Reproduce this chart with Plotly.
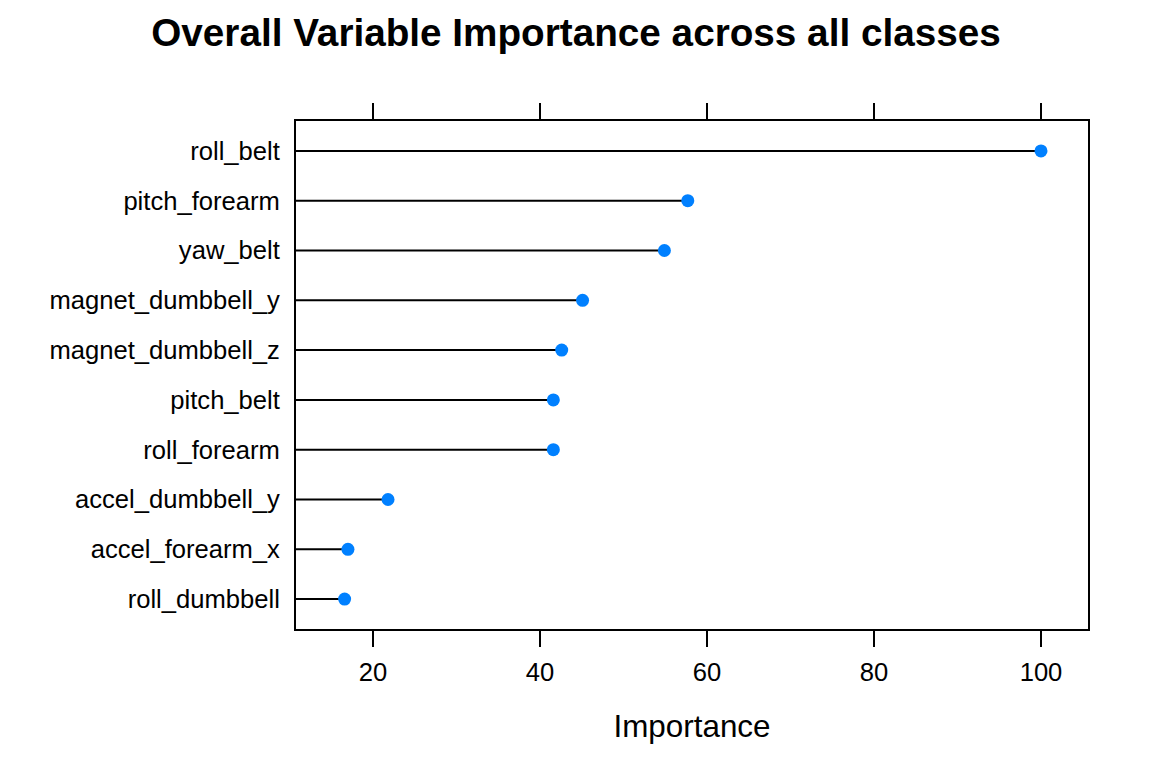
import plotly.graph_objects as go

# variable importance (bottom to top, as drawn)
variables = ["roll_dumbbell", "accel_forearm_x", "accel_dumbbell_y", "roll_forearm",
             "pitch_belt", "magnet_dumbbell_z", "magnet_dumbbell_y", "yaw_belt",
             "pitch_forearm", "roll_belt"]
importance = [16.6, 17.0, 21.8, 41.6, 41.6, 42.6, 45.1, 54.9, 57.7, 100.0]
x_ticks = [20, 40, 60, 80, 100]

X_MIN, X_MAX = 10.78, 105.63
FONT = "Liberation Sans, Arial, sans-serif"

# segments from the left edge of the panel to each point
seg_x, seg_y = [], []
for v, name in zip(importance, variables):
    seg_x += [X_MIN, v, None]
    seg_y += [name, name, None]

fig = go.Figure()
fig.add_trace(go.Scatter(x=seg_x, y=seg_y, mode="lines",
                         line=dict(color="black", width=2),
                         hoverinfo="skip", showlegend=False, cliponaxis=False))
fig.add_trace(go.Scatter(x=importance, y=variables, mode="markers",
                         marker=dict(color="#0080FF", size=13),
                         showlegend=False))

# page has an 8px body margin, so the figure is a bit smaller than the window
fig.update_layout(
    width=1144, height=760,
    paper_bgcolor="white", plot_bgcolor="white",
    margin=dict(l=288, r=64, t=113, b=139),
    font=dict(family=FONT, color="black"),
    title=dict(text="<b>Overall Variable Importance across all classes</b>",
               x=568 / 1144, xanchor="center", xref="container",
               y=1 - 24 / 760, yanchor="middle", yref="container",
               font=dict(size=38.7, family=FONT, color="black")),
    xaxis=dict(range=[X_MIN, X_MAX], tickvals=x_ticks, showgrid=False, zeroline=False,
               showline=True, linecolor="black", linewidth=2, mirror="ticks",
               ticks="outside", ticklen=16, tickwidth=2, tickcolor="black",
               tickfont=dict(size=25.6), ticklabelstandoff=3,
               title=dict(text="Importance", font=dict(size=31.4), standoff=30)),
    yaxis=dict(type="category", categoryorder="array", categoryarray=variables,
               range=[-0.6, len(variables) - 0.4], showgrid=False, zeroline=False,
               showline=True, linecolor="black", linewidth=2, mirror=True,
               ticks="", ticklabelstandoff=9, tickfont=dict(size=25.6)),
)

fig.write_html("out.html")
